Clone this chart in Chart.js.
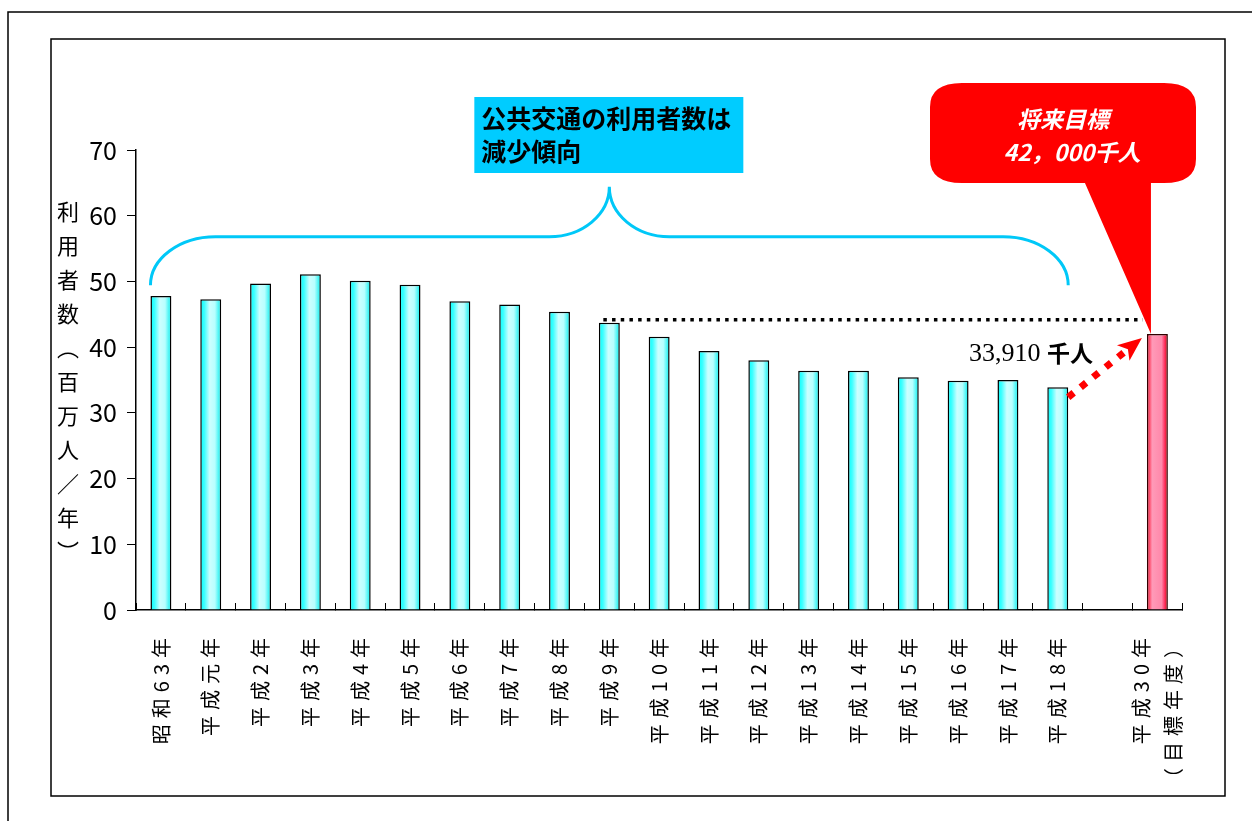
<!DOCTYPE html>
<html>
<head>
<meta charset="utf-8">
<script src="https://cdn.jsdelivr.net/npm/chart.js@4.4.0/dist/chart.umd.min.js"></script>
<style>
  body { margin: 0; background: #fff; }
</style>
</head>
<body>
<canvas id="riders" width="1252" height="821"></canvas>
<script>
// yearly public transport riders (million people / year)
const years = ['昭和63年', '平成元年', '平成2年', '平成3年', '平成4年', '平成5年', '平成6年',
  '平成7年', '平成8年', '平成9年', '平成10年', '平成11年', '平成12年', '平成13年',
  '平成14年', '平成15年', '平成16年', '平成17年', '平成18年'];
const riders = [47.8, 47.3, 49.7, 51.1, 50.1, 49.5, 47.0, 46.5, 45.4, 43.7,
  41.6, 39.4, 38.0, 36.4, 36.4, 35.4, 34.9, 35.0, 33.91];
const targetYear = ['平成30年', '（目標年度）'];
const targetRiders = 42.0;
const yTicks = [0, 10, 20, 30, 40, 50, 60, 70];

const targetIndex = years.length + 1;
const labels = [...years, '', targetYear];
const values = [...riders, null, targetRiders];

const JP = "'Noto Sans CJK JP', sans-serif";
const tickLine = 1.6;

function barFill(c) {
  const chart = c.chart;
  const xs = chart.scales && chart.scales.x;
  if (!xs || !chart.chartArea || c.dataIndex === undefined) return '#bfffff';
  const cx = xs.getPixelForValue(c.dataIndex);
  const half = (xs.getPixelForValue(1) - xs.getPixelForValue(0)) * 0.21;
  const g = chart.ctx.createLinearGradient(cx - half, 0, cx + half, 0);
  if (c.dataIndex === targetIndex) {
    g.addColorStop(0, '#ff0022');
    g.addColorStop(0.25, '#ff9ab8');
    g.addColorStop(0.7, '#ff88aa');
    g.addColorStop(0.85, '#ff3060');
    g.addColorStop(1, '#dd0000');
  } else {
    g.addColorStop(0, '#00ffff');
    g.addColorStop(0.2, '#40ffff');
    g.addColorStop(0.45, '#ccffff');
    g.addColorStop(0.7, '#b8ffff');
    g.addColorStop(1, '#00eeee');
  }
  return g;
}

function thousands(v) {
  return Math.round(v * 1000).toLocaleString('en-US');
}

// brace, callouts, arrows and frames on top of the bars
const overlay = {
  id: 'overlay',
  beforeDraw(chart) {
    // centre the two-line target label on its bar
    const xs = chart.scales.x;
    const items = xs.getLabelItems();
    const item = items[targetIndex];
    if (item && !item.centred) {
      item.options.translation[0] -= 20 * tickLine / 2;
      item.centred = true;
    }
  },
  afterDatasetsDraw(chart) {
    // x tick labels are drawn right after this (ticks.z = 1)
    chart.ctx.letterSpacing = '6px';
  },
  afterDraw(chart) {
    const ctx = chart.ctx;
    ctx.letterSpacing = '0px';
    const ys = chart.scales.y;
    const bars = chart.getDatasetMeta(0).data;
    const half = bars[0].width / 2;
    const first = bars[0], last = bars[years.length - 1], mid = bars[9], goal = bars[targetIndex];

    ctx.save();

    // page frames
    ctx.strokeStyle = '#000';
    ctx.lineWidth = 1.5;
    ctx.strokeRect(8, 12, 1400, 1000);
    ctx.strokeRect(51, 39, 1174, 757);

    // curly brace over the declining years
    const xl = first.x - half, xr = last.x + half, xp = mid.x;
    const yb = ys.getPixelForValue(49.4), ym = ys.getPixelForValue(56.8), yt = ys.getPixelForValue(64.4);
    const re = 65, rp = 60;
    ctx.strokeStyle = '#00c8f8';
    ctx.lineWidth = 3;
    ctx.beginPath();
    ctx.ellipse(xl + re, yb, re, yb - ym, 0, Math.PI, Math.PI * 1.5, false);
    ctx.lineTo(xp - rp, ym);
    ctx.ellipse(xp - rp, yt, rp, ym - yt, 0, Math.PI / 2, 0, true);
    ctx.ellipse(xp + rp, yt, rp, ym - yt, 0, Math.PI, Math.PI / 2, true);
    ctx.lineTo(xr - re, ym);
    ctx.ellipse(xr - re, yb, re, yb - ym, 0, Math.PI * 1.5, Math.PI * 2, false);
    ctx.stroke();

    // blue caption box
    ctx.fillStyle = '#00ccff';
    ctx.fillRect(xp - 135, 97, 269, 76);
    ctx.fillStyle = '#000';
    ctx.font = 'bold 25px ' + JP;
    ctx.textAlign = 'left';
    ctx.textBaseline = 'middle';
    ctx.fillText('公共交通の利用者数は', xp - 128, 118);
    ctx.fillText('減少傾向', xp - 128, 151);

    // dotted level line from 平成9年 to the target bar
    const lvl = mid.y - 3;
    ctx.strokeStyle = '#000';
    ctx.lineWidth = 3.5;
    ctx.setLineDash([3.5, 5.2]);
    ctx.beginPath();
    ctx.moveTo(mid.x - 6, lvl);
    ctx.lineTo(goal.x - half - 4, lvl);
    ctx.stroke();

    // red dotted arrow from the latest year up to the target
    const sx = last.x + half, sy = last.y + 10;
    const ex = goal.x - half - 5, ey = goal.y + 4;
    const ang = Math.atan2(ey - sy, ex - sx);
    const head = 24;
    ctx.strokeStyle = '#ff0000';
    ctx.lineWidth = 7;
    ctx.setLineDash([7, 9]);
    ctx.beginPath();
    ctx.moveTo(sx, sy);
    ctx.lineTo(ex - Math.cos(ang) * (head - 4), ey - Math.sin(ang) * (head - 4));
    ctx.stroke();
    ctx.setLineDash([]);
    ctx.fillStyle = '#ff0000';
    ctx.beginPath();
    ctx.moveTo(ex, ey);
    ctx.lineTo(ex - Math.cos(ang) * head - Math.sin(ang) * 10, ey - Math.sin(ang) * head + Math.cos(ang) * 10);
    ctx.lineTo(ex - Math.cos(ang) * (head - 6), ey - Math.sin(ang) * (head - 6));
    ctx.lineTo(ex - Math.cos(ang) * head + Math.sin(ang) * 10, ey - Math.sin(ang) * head - Math.cos(ang) * 10);
    ctx.closePath();
    ctx.fill();

    // latest value
    ctx.fillStyle = '#000';
    ctx.textAlign = 'left';
    ctx.textBaseline = 'alphabetic';
    ctx.font = "26px 'Liberation Serif', serif";
    ctx.fillText(thousands(riders[riders.length - 1]), 969, 361);
    ctx.font = 'bold 23px ' + JP;
    ctx.textBaseline = 'middle';
    ctx.fillText('千人', 1047, 353);

    // red speech bubble pointing at the target bar
    const bx0 = 930, bx1 = 1196, by0 = 83, by1 = 183, rx = 32, ry = 24;
    const tipX = goal.x - half + 4, tipY = goal.y;
    ctx.fillStyle = '#ff0000';
    ctx.beginPath();
    ctx.moveTo(bx0 + rx, by0);
    ctx.lineTo(bx1 - rx, by0);
    ctx.quadraticCurveTo(bx1, by0, bx1, by0 + ry);
    ctx.lineTo(bx1, by1 - ry);
    ctx.quadraticCurveTo(bx1, by1, bx1 - rx, by1);
    ctx.lineTo(tipX, by1);
    ctx.lineTo(tipX, tipY);
    ctx.lineTo(tipX - 66, by1);
    ctx.lineTo(bx0 + rx, by1);
    ctx.quadraticCurveTo(bx0, by1, bx0, by1 - ry);
    ctx.lineTo(bx0, by0 + ry);
    ctx.quadraticCurveTo(bx0, by0, bx0 + rx, by0);
    ctx.closePath();
    ctx.fill();
    ctx.fillStyle = '#fff';
    ctx.textAlign = 'center';
    ctx.font = 'italic bold 23px ' + JP;
    ctx.fillText('将来目標', 1063, 119);
    ctx.fillText(thousands(targetRiders).replace(',', '，') + '千人', 1072, 152);

    // vertical axis title
    ctx.fillStyle = '#000';
    ctx.font = '22px ' + JP;
    const title = ['利', '用', '者', '数', '︵', '百', '万', '人', '／', '年', '︶'];
    title.forEach((ch, i) => ctx.fillText(ch, 68, 212 + i * 34));

    ctx.restore();
  }
};

new Chart(document.getElementById('riders'), {
  type: 'bar',
  data: {
    labels: labels,
    datasets: [{
      data: values,
      backgroundColor: barFill,
      borderColor: c => c.dataIndex === targetIndex ? '#300000' : '#000',
      borderWidth: 1.5,
      barPercentage: 0.42,
      categoryPercentage: 1.0
    }]
  },
  options: {
    responsive: false,
    animation: false,
    devicePixelRatio: 1,
    layout: { padding: { top: 150, right: 67, bottom: 0, left: 0 } },
    plugins: { legend: { display: false }, tooltip: { enabled: false } },
    scales: {
      x: {
        offset: true,
        grid: { drawOnChartArea: false, tickLength: -7, color: '#000', offset: true },
        border: { color: '#000', width: 1.5 },
        ticks: {
          autoSkip: false, minRotation: 90, maxRotation: 90, padding: 29, z: 1,
          color: '#000', font: { family: JP, size: 20, lineHeight: tickLine }
        },
        afterFit(s) { s.height = 211; }
      },
      y: {
        min: 0, max: 70,
        afterBuildTicks(s) { s.ticks = yTicks.map(v => ({ value: v })); },
        grid: { drawOnChartArea: false, tickLength: 9, color: '#000' },
        border: { color: '#000', width: 1.5 },
        ticks: {
          padding: 10, color: '#000',
          font: { family: "'Liberation Sans Narrow', 'Noto Sans CJK JP', sans-serif", size: 25 }
        },
        afterFit(s) { s.width = 136; }
      }
    }
  },
  plugins: [overlay]
});
</script>
</body>
</html>
